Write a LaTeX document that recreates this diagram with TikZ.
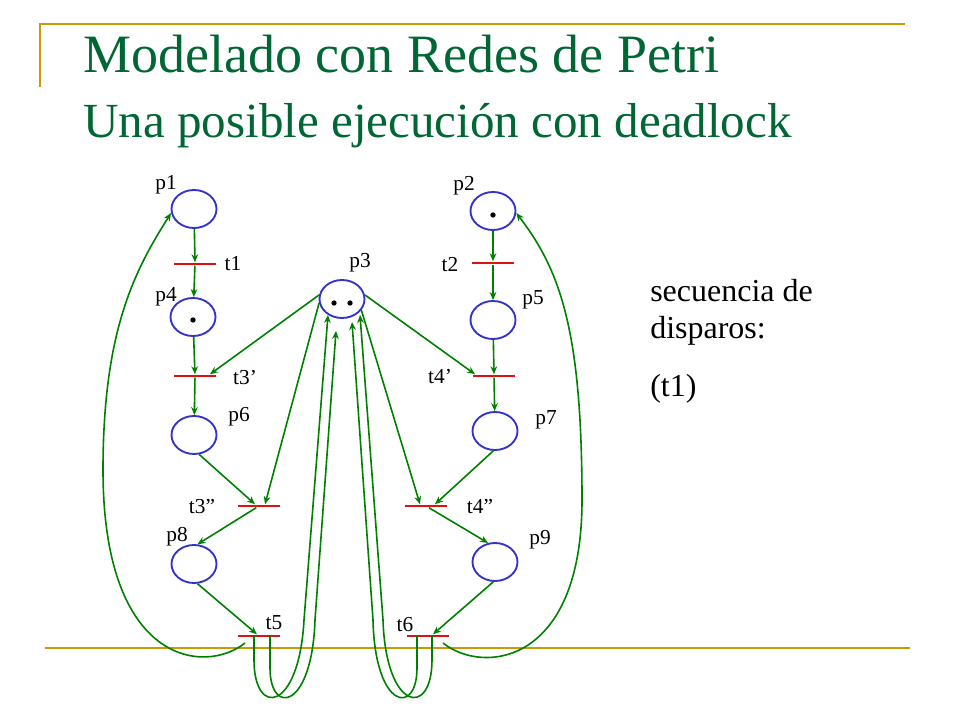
\documentclass[tikz,border=0pt]{standalone}
\usepackage{fontspec}
\setmainfont{Liberation Serif}
\usepackage{tikz}
\usetikzlibrary{arrows.meta}
\usetikzlibrary{shapes.geometric}
\usetikzlibrary{calc}
\definecolor{titlegreen}{RGB}{0,102,51}
\definecolor{rulegold}{RGB}{204,153,0}
\definecolor{placeblue}{RGB}{51,51,204}
\definecolor{transred}{RGB}{221,17,17}
\definecolor{arcgreen}{RGB}{0,128,0}
\tikzset{
  place/.style={draw=placeblue, line width=1.4pt, ellipse,
    minimum width=33.75pt, minimum height=28.5pt, inner sep=0pt},
  trans/.style={fill=transred, rectangle,
    minimum width=31.5pt, minimum height=2.2pt, inner sep=0pt},
  flow/.style={draw=arcgreen, line width=1.2pt},
  tipped/.style={-{Stealth[length=6pt,width=5pt]}},
  lbl/.style={font=\fontsize{16}{19}\selectfont, inner sep=0pt},
  tok/.style={fill=black, circle, minimum size=4pt, inner sep=0pt},
  goldrule/.style={draw=rulegold, line width=2pt}
}

\begin{document}
\begin{tikzpicture}[x=0.75pt,y=-0.75pt]
\useasboundingbox (0,0) rectangle (960,720);
\draw[goldrule] (40,87) -- (40,24) -- (905,24);
\draw[goldrule] (45,648) -- (910,648);
\node[anchor=base west, inner sep=0pt, text=titlegreen, font=\fontsize{40.5}{48}\selectfont] (title) at (83,73) {Modelado con Redes de Petri};
\node[anchor=base west, inner sep=0pt, text=titlegreen, font=\fontsize{36.8}{44}\selectfont] (subtitle) at (83,138) {Una posible ejecución con deadlock};

\node[place] (p1) at (194,209) {};
\node[place] (p2) at (493,211) {};
\node[place] (p3) at (342,299) {};
\node[place] (p4) at (193,317) {};
\node[place] (p5) at (493,320) {};
\node[place] (p6) at (194,435) {};
\node[place] (p7) at (495,431) {};
\node[place] (p8) at (194,564) {};
\node[place] (p9) at (495,562) {};
\node[tok] (k2) at ($(p2)+(0,4)$) {};
\node[tok] (k4) at ($(p4)+(0,3)$) {};
\node[tok] (k3a) at ($(p3)+(-8,4)$) {};
\node[tok] (k3b) at ($(p3)+(8,4)$) {};

\node[trans] (t1) at (195,264) {};
\node[trans] (t2) at (493,263) {};
\node[trans] (t3a) at (195,376) {};
\node[trans] (t4a) at (494,376) {};
\node[trans] (t3b) at (259,506) {};
\node[trans] (t4b) at (426,506) {};
\node[trans] (t5) at (259,636) {};
\node[trans] (t6) at (428,636) {};

\node[lbl] (lp1) at (166,185) {p1};
\node[lbl] (lp2) at (464,186) {p2};
\node[lbl] (lp3) at (360,263) {p3};
\node[lbl] (lp4) at (166,297) {p4};
\node[lbl] (lp5) at (533,300) {p5};
\node[lbl] (lp6) at (239,417) {p6};
\node[lbl] (lp7) at (546,420) {p7};
\node[lbl] (lp8) at (177,537) {p8};
\node[lbl] (lp9) at (540,540) {p9};
\node[lbl] (lt1) at (233,264) {t1};
\node[lbl] (lt2) at (450,265) {t2};
\node[lbl] (lt3a) at (245,378) {t3’};
\node[lbl] (lt4a) at (440,377) {t4’};
\node[lbl] (lt3b) at (202,507) {t3”};
\node[lbl] (lt4b) at (480,507) {t4”};
\node[lbl] (lt5) at (274,623) {t5};
\node[lbl] (lt6) at (405,625) {t6};

\node[anchor=base west, inner sep=0pt, font=\fontsize{24}{29}\selectfont] (seq1) at (650,301) {secuencia de};
\node[anchor=base west, inner sep=0pt, font=\fontsize{24}{29}\selectfont] (seq2) at (650,339) {disparos:};
\node[anchor=base west, inner sep=0pt, font=\fontsize{24}{29}\selectfont] (seq3) at (650,396) {(t1)};

\draw[flow, every edge/.append style={tipped}]
(p1) edge (t1)
(t1) edge (p4)
(p4) edge (t3a)
(t3a) edge (p6)
(p2) edge (t2)
(t2) edge (p5)
(p5) edge (t4a)
(t4a) edge (p7)
(p3.170) edge ($(t3a.north)+(15,0)$)
(p3.10) edge ($(t4a.north)+(-19,0)$)
(p3.190) edge ($(t3b.north)+(6,0)$)
(p3.-30) edge ($(t4b.north)+(-6,0)$)
(p6.-75) edge ($(t3b.north)+(-4,0)$)
(p7.-95) edge ($(t4b.north)+(9,0)$)
(t3b) edge (p8.80)
(t4b) edge (p9.110)
(p8.-80) edge (t5)
(p9.-95) edge ($(t6.north)+(5,0)$);

\draw[flow, tipped] ($(t5)+(-14,7)$) .. controls (205,675) and (103,665) .. (103,470)
  .. controls (103,330) and (135,270) .. (p1.190);
\draw[flow, tipped] ($(t6)+(15,7)$) .. controls (483,675) and (582,665) .. (582,500)
  .. controls (582,330) and (560,270) .. (p2.-5);
\draw[flow, tipped] ($(t5)+(-5,0)$) -- (254,660) .. controls (254,718) and (299,712) .. (304,620) -- ($(p3)+(-14,16)$);
\draw[flow, tipped] ($(t5)+(11,0)$) -- (270,668) .. controls (270,716) and (312,710) .. (315,620) -- ($(p3)+(-6,32)$);
\draw[flow, tipped] ($(t6)+(-11,0)$) -- (417,668) .. controls (417,716) and (375,710) .. (373,620) -- ($(p3)+(10,23)$);
\draw[flow, tipped] ($(t6)+(4,0)$) -- (432,660) .. controls (432,718) and (386,712) .. (383,620) -- ($(p3)+(18,16)$);
\end{tikzpicture}
\end{document}
